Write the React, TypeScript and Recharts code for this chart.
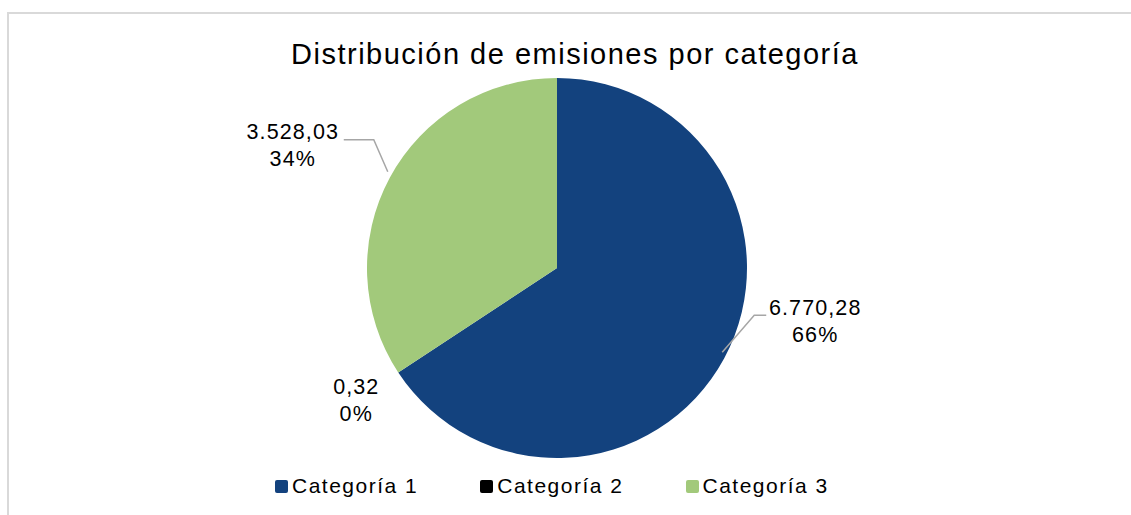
import { PieChart, Pie, Cell } from "recharts";

const categories = ["Categoría 1", "Categoría 2", "Categoría 3"];
const emissions = [6770.28, 0.32, 3528.03];
const colors = ["#13427E", "#000000", "#A2C97B"];

const data = categories.map((name, i) => ({ name, value: emissions[i] }));

const FONT = '"Liberation Sans", Arial, Helvetica, sans-serif';
const RAD = Math.PI / 180;

// label placement relative to the slice edge point (excel-style manual leaders)
const LABEL_POS = [
  { line: true, elbow: [30, -43], end: [42, -43], text: [91, -50] },
  { line: false, elbow: [0, 0], end: [0, 0], text: [-42, 15] },
  { line: true, elbow: [-16, -38], end: [-46, -38], text: [-97, -46] },
];

function fmt(v: number) {
  const [int, dec] = v.toFixed(2).split(".");
  return int.replace(/\B(?=(\d{3})+(?!\d))/g, ".") + "," + dec;
}

function renderLabel(props: any) {
  const { cx, cy, midAngle, outerRadius, index, value, percent } = props;
  const ex = cx + outerRadius * Math.cos(-midAngle * RAD);
  const ey = cy + outerRadius * Math.sin(-midAngle * RAD);
  const p = LABEL_POS[index];
  const tx = ex + p.text[0];
  const ty = ey + p.text[1];
  return (
    <g key={`lbl-${index}`}>
      {p.line && (
        <polyline
          points={`${ex - 2},${ey - 6} ${ex + p.elbow[0]},${ey + p.elbow[1]} ${ex + p.end[0]},${ey + p.end[1]}`}
          fill="none"
          stroke="#a6a6a6"
          strokeWidth={1.5}
        />
      )}
      <text
        x={tx}
        y={ty}
        textAnchor="middle"
        dominantBaseline="central"
        fontFamily={FONT}
        fontSize={21.5}
        letterSpacing={1.1}
        fill="#000"
      >
        <tspan x={tx} dy={0}>{fmt(value)}</tspan>
        <tspan x={tx} dy={27}>{Math.round(percent * 100)}%</tspan>
      </text>
    </g>
  );
}

export default function App() {
  return (
    <div style={{ position: "absolute", left: 0, top: 0, width: 1131, height: 515, background: "#fff", overflow: "hidden" }}>
      <div
        style={{
          position: "absolute",
          left: 7,
          top: 12,
          width: 1200,
          height: 600,
          borderLeft: "2px solid #d9d9d9",
          borderTop: "2px solid #d9d9d9",
        }}
      />
      <div
        style={{
          position: "absolute",
          left: 0,
          top: 38,
          width: 1150,
          textAlign: "center",
          fontFamily: FONT,
          fontSize: 29,
          letterSpacing: 1.5,
          color: "#000",
        }}
      >
        Distribución de emisiones por categoría
      </div>
      <div style={{ position: "absolute", left: 0, top: 0 }}>
        <PieChart width={1131} height={515} margin={{ top: 0, right: 0, bottom: 0, left: 0 }}>
          <Pie
            data={data}
            dataKey="value"
            nameKey="name"
            cx={557}
            cy={268}
            outerRadius={190}
            startAngle={90}
            endAngle={-270}
            stroke="none"
            labelLine={false}
            label={renderLabel}
            isAnimationActive={false}
          >
            {data.map((d, i) => (
              <Cell key={d.name} fill={colors[i]} />
            ))}
          </Pie>
        </PieChart>
      </div>
      <div
        style={{
          position: "absolute",
          left: 275,
          top: 474,
          display: "flex",
          alignItems: "center",
          fontFamily: FONT,
          fontSize: 21,
          letterSpacing: 1.5,
          color: "#000",
        }}
      >
        {categories.map((c, i) => (
          <div key={c} style={{ display: "flex", alignItems: "center", marginRight: 62 }}>
            <span style={{ width: 13, height: 13, background: colors[i], borderRadius: 2, marginRight: 4, display: "inline-block" }} />
            <span>{c}</span>
          </div>
        ))}
      </div>
    </div>
  );
}
